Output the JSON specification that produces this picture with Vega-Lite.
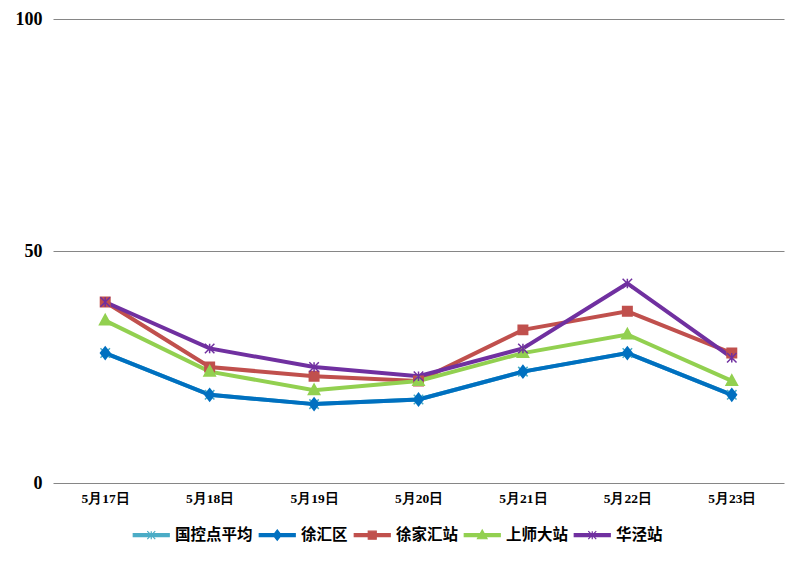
{
  "$schema": "https://vega.github.io/schema/vega-lite/v6.json",
  "width": 731,
  "height": 464,
  "autosize": "none",
  "padding": {"left": 53, "top": 19, "right": 20, "bottom": 79},
  "background": "white",
  "config": {"view": {"stroke": null}},
  "data": {"values": [
    {"date": "5月17日", "series": "国控点平均", "value": 28},
    {"date": "5月18日", "series": "国控点平均", "value": 19},
    {"date": "5月19日", "series": "国控点平均", "value": 17},
    {"date": "5月20日", "series": "国控点平均", "value": 18},
    {"date": "5月21日", "series": "国控点平均", "value": 24},
    {"date": "5月22日", "series": "国控点平均", "value": 28},
    {"date": "5月23日", "series": "国控点平均", "value": 19},
    {"date": "5月17日", "series": "徐汇区", "value": 28},
    {"date": "5月18日", "series": "徐汇区", "value": 19},
    {"date": "5月19日", "series": "徐汇区", "value": 17},
    {"date": "5月20日", "series": "徐汇区", "value": 18},
    {"date": "5月21日", "series": "徐汇区", "value": 24},
    {"date": "5月22日", "series": "徐汇区", "value": 28},
    {"date": "5月23日", "series": "徐汇区", "value": 19},
    {"date": "5月17日", "series": "徐家汇站", "value": 39},
    {"date": "5月18日", "series": "徐家汇站", "value": 25},
    {"date": "5月19日", "series": "徐家汇站", "value": 23},
    {"date": "5月20日", "series": "徐家汇站", "value": 22},
    {"date": "5月21日", "series": "徐家汇站", "value": 33},
    {"date": "5月22日", "series": "徐家汇站", "value": 37},
    {"date": "5月23日", "series": "徐家汇站", "value": 28},
    {"date": "5月17日", "series": "上师大站", "value": 35},
    {"date": "5月18日", "series": "上师大站", "value": 24},
    {"date": "5月19日", "series": "上师大站", "value": 20},
    {"date": "5月20日", "series": "上师大站", "value": 22},
    {"date": "5月21日", "series": "上师大站", "value": 28},
    {"date": "5月22日", "series": "上师大站", "value": 32},
    {"date": "5月23日", "series": "上师大站", "value": 22},
    {"date": "5月17日", "series": "华泾站", "value": 39},
    {"date": "5月18日", "series": "华泾站", "value": 29},
    {"date": "5月19日", "series": "华泾站", "value": 25},
    {"date": "5月20日", "series": "华泾站", "value": 23},
    {"date": "5月21日", "series": "华泾站", "value": 29},
    {"date": "5月22日", "series": "华泾站", "value": 43},
    {"date": "5月23日", "series": "华泾站", "value": 27}
  ]},
  "encoding": {
    "x": {
      "field": "date", "type": "ordinal", "sort": null,
      "scale": {"type": "point", "padding": 0.5},
      "axis": {"title": null, "ticks": false, "domain": false, "labelAngle": 0,
               "labelFont": "Liberation Serif", "labelFontWeight": "bold", "labelFontSize": 13.5,
               "labelColor": "#000000", "labelPadding": 8}
    },
    "y": {
      "field": "value", "type": "quantitative",
      "scale": {"domain": [0, 100], "nice": false},
      "axis": {"title": null, "values": [0, 50, 100], "ticks": false, "domain": false,
               "grid": true, "gridColor": "#868686", "gridWidth": 1,
               "labelFont": "Liberation Serif", "labelFontWeight": "bold", "labelFontSize": 18,
               "labelColor": "#000000", "labelPadding": 11}
    }
  },
  "layer": [
    {
      "mark": {"type": "line", "strokeWidth": 4},
      "encoding": {
        "color": {
          "field": "series", "type": "nominal",
          "scale": {"domain": ["国控点平均", "徐汇区", "徐家汇站", "上师大站", "华泾站"],
                    "range": ["#4BACC6", "#0070C0", "#C0504D", "#92D050", "#7030A0"]},
          "legend": {
            "title": null, "orient": "none", "legendX": 78.5, "legendY": 508, "direction": "horizontal",
            "labelFont": "Noto Sans CJK SC", "labelFontWeight": "bold", "labelFontSize": 15.5,
            "labelColor": "#000000", "symbolSize": 64, "symbolStrokeWidth": 1.5,
            "symbolOffset": 12, "labelOffset": 16, "columnPadding": 3,
            "encode": {
              "symbols": {"update": {
                "shape": {"signal": "datum.value == '国控点平均' ? 'M-4.5,-0.38L4.5,-0.38L4.5,0.38L-4.5,0.38ZM-1,-1L1,1M-1,1L1,-1M0,-1L0,1' : datum.value == '徐汇区' ? 'M-4.5,-0.38L4.5,-0.38L4.5,0.38L-4.5,0.38ZM0,-1.3L1,0L0,1.3L-1,0Z' : datum.value == '徐家汇站' ? 'M-4.5,-0.38L4.5,-0.38L4.5,0.38L-4.5,0.38ZM-1,-1L1,-1L1,1L-1,1Z' : datum.value == '上师大站' ? 'M-4.5,-0.38L4.5,-0.38L4.5,0.38L-4.5,0.38ZM0,-1.3L1.2,0.9L-1.2,0.9Z' : 'M-4.5,-0.38L4.5,-0.38L4.5,0.38L-4.5,0.38ZM-1,-1L1,1M-1,1L1,-1M0,-1L0,1'"},
                "fill": {"signal": "datum.value == '国控点平均' ? '#4BACC6' : datum.value == '徐汇区' ? '#0070C0' : datum.value == '徐家汇站' ? '#C0504D' : datum.value == '上师大站' ? '#92D050' : '#7030A0'"},
                "stroke": {"signal": "datum.value == '国控点平均' ? '#4BACC6' : datum.value == '徐汇区' ? '#0070C0' : datum.value == '徐家汇站' ? '#C0504D' : datum.value == '上师大站' ? '#92D050' : '#7030A0'"},
                "strokeWidth": {"value": 1.2},
                "fillOpacity": {"value": 1},
                "strokeOpacity": {"value": 1},
                "opacity": {"value": 1}
              }}
            }
          }
        }
      }
    },
    {
      "transform": [{"calculate": "datum.series", "as": "marker"}],
      "mark": {"type": "point", "filled": true, "size": 90, "strokeWidth": 1.5, "opacity": 1},
      "encoding": {
        "shape": {
          "field": "marker", "type": "nominal", "legend": null, "sort": "ascending",
          "scale": {"range": ["M0,-1.3L1.2,0.9L-1.2,0.9Z", "M-1,-1L1,1M-1,1L1,-1M0,-1L0,1", "M-1,-1L1,1M-1,1L1,-1M0,-1L0,1", "M-1,-1L1,-1L1,1L-1,1Z", "M0,-1.3L1,0L0,1.3L-1,0Z"]}
        },
        "fill": {
          "field": "marker", "type": "nominal", "legend": null, "sort": "ascending",
          "scale": {"range": ["#92D050", "#7030A0", "#4BACC6", "#C0504D", "#0070C0"]}
        },
        "stroke": {
          "field": "marker", "type": "nominal", "legend": null, "sort": "ascending",
          "scale": {"range": ["#92D050", "#7030A0", "#4BACC6", "#C0504D", "#0070C0"]}
        }
      }
    }
  ]
}
